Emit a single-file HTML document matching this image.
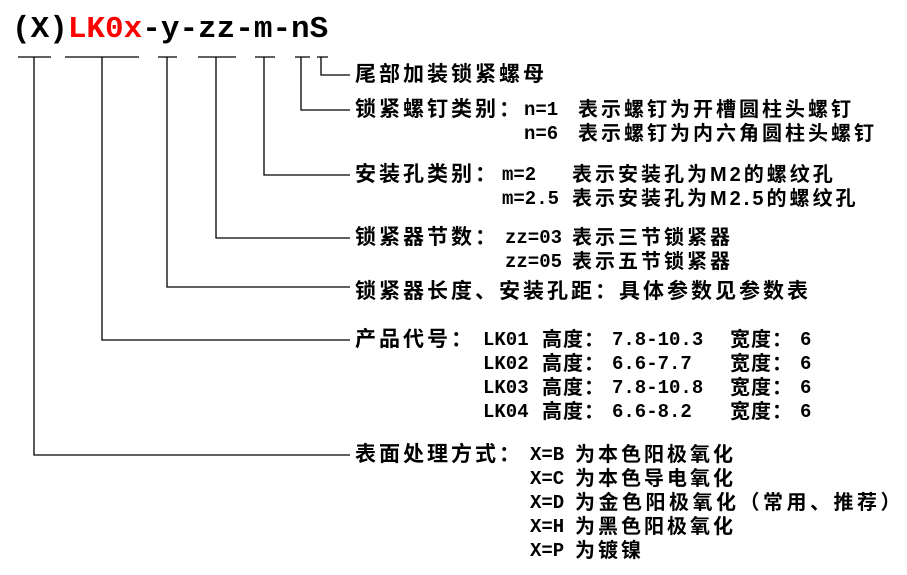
<!DOCTYPE html>
<html><head><meta charset="utf-8"><style>
body{margin:0;width:907px;height:575px;background:#fff;position:relative;overflow:hidden}
.t{position:absolute;line-height:24px;height:24px;white-space:pre;font-family:"Liberation Sans","Noto Sans CJK SC",sans-serif;font-weight:bold;font-size:20px;letter-spacing:3px;color:#000}
.L{font-size:21px;letter-spacing:3px}
.m{font-family:"Liberation Mono","Noto Sans CJK SC",monospace;letter-spacing:0px;font-size:19px}
.h{position:absolute;top:10px;font-family:"Liberation Mono",monospace;font-size:31px;font-weight:bold;line-height:40px;white-space:pre;letter-spacing:0}
</style></head><body>
<div class="h" style="left:12px">(X)<span style="color:#f00">LK0x</span>-y-zz-m-nS</div>
<svg width="907" height="575" style="position:absolute;left:0;top:0" stroke="#000" stroke-width="1.3" fill="none">
<path d="M18 57H51M65 57H139M158 57H177M198 57H236M255 57H275M295 57H310M317 57H328"/>
<path d="M321 57V75H350M301 57V110H350M264 57V175H350M216 57V238H350M167 57V287H350M102 57V340H350M34 57V455H350"/>
</svg>
<div class="t L" style="left:355px;top:63px">尾部加装锁紧螺母</div>

<div class="t L" style="left:355px;top:98px">锁紧螺钉类别：</div>
<div class="t m" style="left:524px;top:98px">n=1</div>
<div class="t" style="left:578px;top:98px">表示螺钉为开槽圆柱头螺钉</div>
<div class="t m" style="left:524px;top:122px">n=6</div>
<div class="t" style="left:578px;top:122px">表示螺钉为内六角圆柱头螺钉</div>

<div class="t L" style="left:355px;top:163px">安装孔类别：</div>
<div class="t m" style="left:502px;top:163px">m=2</div>
<div class="t" style="left:572px;top:163px">表示安装孔为M2的螺纹孔</div>
<div class="t m" style="left:502px;top:187px">m=2.5</div>
<div class="t" style="left:572px;top:187px">表示安装孔为M2.5的螺纹孔</div>

<div class="t L" style="left:355px;top:226px">锁紧器节数：</div>
<div class="t m" style="left:505px;top:226px">zz=03</div>
<div class="t" style="left:572px;top:226px">表示三节锁紧器</div>
<div class="t m" style="left:505px;top:250px">zz=05</div>
<div class="t" style="left:572px;top:250px">表示五节锁紧器</div>

<div class="t L" style="left:355px;top:280px">锁紧器长度、安装孔距：具体参数见参数表</div>

<div class="t L" style="left:355px;top:328px">产品代号：</div>
<div class="t m" style="left:483px;top:328px">LK01</div><div class="t" style="left:542px;top:328px;letter-spacing:1px">高度：</div><div class="t m" style="left:612px;top:328px">7.8-10.3</div><div class="t" style="left:730px;top:328px;letter-spacing:1px">宽度：</div><div class="t m" style="left:800px;top:328px">6</div>
<div class="t m" style="left:483px;top:352px">LK02</div><div class="t" style="left:542px;top:352px;letter-spacing:1px">高度：</div><div class="t m" style="left:612px;top:352px">6.6-7.7</div><div class="t" style="left:730px;top:352px;letter-spacing:1px">宽度：</div><div class="t m" style="left:800px;top:352px">6</div>
<div class="t m" style="left:483px;top:376px">LK03</div><div class="t" style="left:542px;top:376px;letter-spacing:1px">高度：</div><div class="t m" style="left:612px;top:376px">7.8-10.8</div><div class="t" style="left:730px;top:376px;letter-spacing:1px">宽度：</div><div class="t m" style="left:800px;top:376px">6</div>
<div class="t m" style="left:483px;top:400px">LK04</div><div class="t" style="left:542px;top:400px;letter-spacing:1px">高度：</div><div class="t m" style="left:612px;top:400px">6.6-8.2</div><div class="t" style="left:730px;top:400px;letter-spacing:1px">宽度：</div><div class="t m" style="left:800px;top:400px">6</div>

<div class="t L" style="left:355px;top:443px">表面处理方式：</div>
<div class="t m" style="left:530px;top:443px">X=B</div><div class="t" style="left:575px;top:443px">为本色阳极氧化</div>
<div class="t m" style="left:530px;top:467px">X=C</div><div class="t" style="left:575px;top:467px">为本色导电氧化</div>
<div class="t m" style="left:530px;top:491px">X=D</div><div class="t" style="left:575px;top:491px;letter-spacing:3.5px">为金色阳极氧化（常用、推荐）</div>
<div class="t m" style="left:530px;top:515px">X=H</div><div class="t" style="left:575px;top:515px">为黑色阳极氧化</div>
<div class="t m" style="left:530px;top:539px">X=P</div><div class="t" style="left:575px;top:539px">为镀镍</div>
</body></html>
